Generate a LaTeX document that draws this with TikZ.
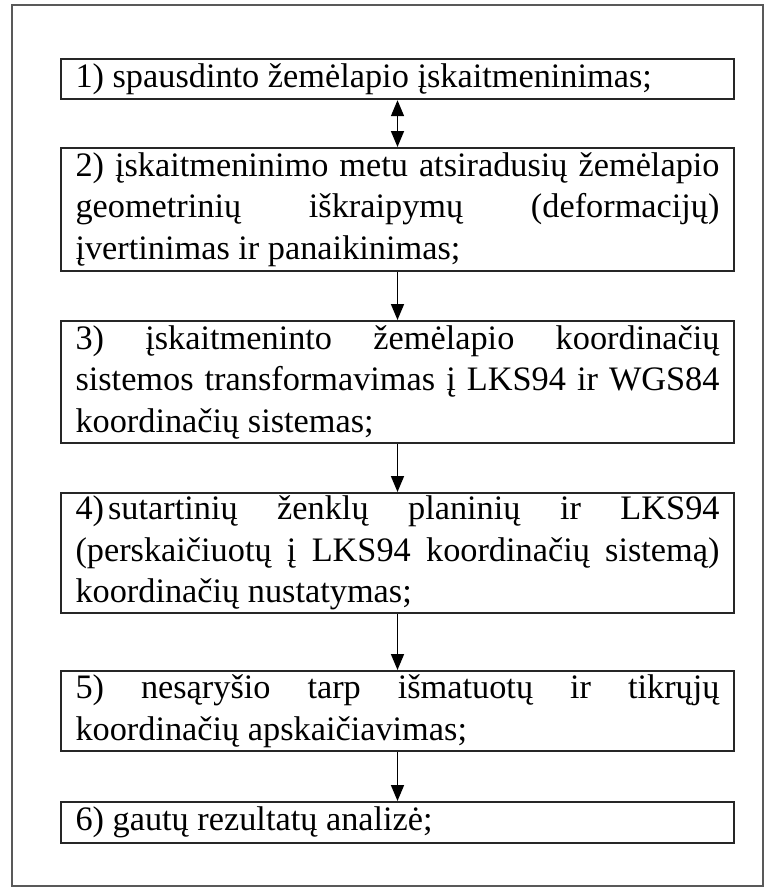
\documentclass[tikz,border=0pt]{standalone}
\usepackage{fontspec}
\setmainfont{Liberation Serif}
\usetikzlibrary{arrows.meta}
\newcommand\stepsetup{\hyphenpenalty=10000 \exhyphenpenalty=10000 \tolerance=10000 \relax}
\begin{document}
\begin{tikzpicture}[x=1pt,y=-1pt,
  stepbox/.style={draw=black!85, line width=2.2pt, text width=644pt, inner xsep=14.5pt, inner ysep=3pt,
    align=justify, anchor=north, execute at begin node=\stepsetup,
    font=\fontsize{34.3pt}{41.5pt}\selectfont},
  conn/.style={line width=1.6pt, -{Triangle[length=16pt,width=13pt]}},
  dblconn/.style={line width=1.6pt, {Triangle[length=16pt,width=13pt]}-{Triangle[length=16pt,width=13pt]}}]
\useasboundingbox (0,0) rectangle (770,888);
\draw[black!65, line width=1.5pt] (12,5) rectangle (763,886);

\node[stepbox, minimum height=40pt] (b1) at (397.5,58) {1) spausdinto žemėlapio įskaitmeninimas;};
\node[stepbox, minimum height=123pt] (b2) at (397.5,147) {2) įskaitmeninimo metu atsiradusių žemėlapio\linebreak geometrinių iškraipymų (deformacijų)\linebreak įvertinimas ir panaikinimas;};
\node[stepbox, minimum height=122pt] (b3) at (397.5,320) {3) įskaitmeninto žemėlapio koordinačių\linebreak sistemos transformavimas į LKS94 ir WGS84\linebreak koordinačių sistemas;};
\node[stepbox, minimum height=120pt] (b4) at (397.5,492) {4)\hspace{0.12em}sutartinių ženklų planinių ir LKS94\linebreak (perskaičiuotų į LKS94 koordinačių sistemą)\linebreak koordinačių nustatymas;};
\node[stepbox, minimum height=80pt] (b5) at (397.5,670) {5) nesąryšio tarp išmatuotų ir tikrųjų\linebreak koordinačių apskaičiavimas;};
\node[stepbox, minimum height=41pt] (b6) at (397.5,801) {6) gautų rezultatų analizė;};

\draw[dblconn] (b1.south) -- (b2.north);
\draw[conn] (b2.south) -- (b3.north);
\draw[conn] (b3.south) -- (b4.north);
\draw[conn] (b4.south) -- (b5.north);
\draw[conn] (b5.south) -- (b6.north);
\end{tikzpicture}
\end{document}
